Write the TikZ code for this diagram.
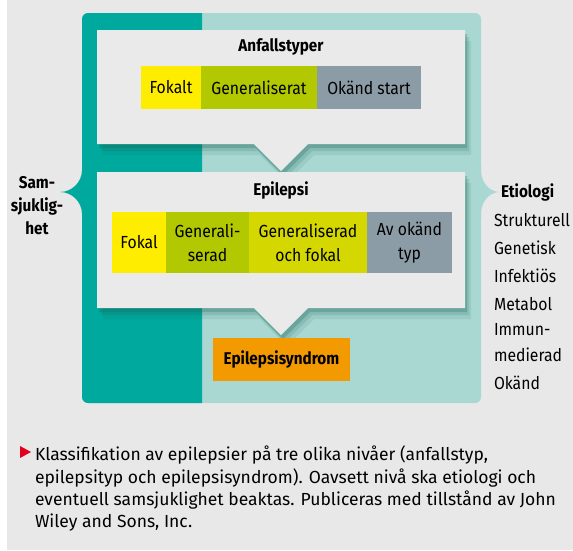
\documentclass[tikz,border=0pt]{standalone}
\usepackage{fontspec}
\setmainfont{Fira Sans}
\newfontfamily\condfont{Fira Sans}[FakeStretch=0.9]
\newfontfamily\captfont{Fira Sans}
\usepackage{color}
\usetikzlibrary{shapes.callouts,shadows}
\definecolor{bggray}{HTML}{E8E8E8}
\definecolor{boxgray}{HTML}{EAEAEA}
\definecolor{tealdark}{HTML}{00A99D}
\definecolor{teallight}{HTML}{A9D8D3}
\definecolor{shadowteal}{HTML}{1A6458}
\definecolor{fokalyellow}{HTML}{FFED00}
\definecolor{genergreen}{HTML}{B2C800}
\definecolor{fokalgreen}{HTML}{D4D800}
\definecolor{okandgray}{HTML}{8C9CA6}
\definecolor{syndromorange}{HTML}{F39A00}
\definecolor{arrowred}{HTML}{E2001A}

\begin{document}
\begin{tikzpicture}[x=1pt,y=-1pt]
\tikzstyle{every node}=[inner sep=0pt,outer sep=0pt,font=\condfont\fontsize{17.5}{24}\selectfont,text=black];
\tikzstyle{cell}=[minimum height=43pt,align=center];
\tikzstyle{cell2}=[minimum height=61pt,align=center];
\tikzstyle{headtext}=[font=\condfont\bfseries\fontsize{17}{23}\selectfont];
\tikzstyle{listtext}=[anchor=west,font=\condfont\fontsize{17.5}{26}\selectfont];
\tikzstyle{callbox}=[shape=rectangle callout,fill=boxgray,minimum width=368pt,callout pointer width=54pt,
  drop shadow={shadow xshift=6pt,shadow yshift=-11pt,opacity=.1,fill=shadowteal},
  drop shadow={shadow xshift=4pt,shadow yshift=-7pt,opacity=.15,fill=shadowteal},
  drop shadow={shadow xshift=2pt,shadow yshift=-4pt,opacity=.25,fill=shadowteal}];
\useasboundingbox (0,0) rectangle (573,550);
% bakgrund
\fill[white] (0,0) rectangle (573,550);
\fill[bggray] (6.5,0) rectangle (573,550);
% ram med klamrar
\fill[teallight,rounded corners=6pt] (82,13) rectangle (481,403);
\fill[teallight] (480,165) -- (481,165) -- (481,170) .. controls (481,182) and (489,192) .. (500,192)
  .. controls (489,192) and (481,202) .. (481,214) -- (481,219) -- (480,219) -- cycle;
\begin{scope}
\clip (0,0) rectangle (202,550);
\fill[tealdark,rounded corners=6pt] (82,13) rectangle (481,403);
\end{scope}
\fill[tealdark] (83,165) -- (82,165) -- (82,170) .. controls (82,182) and (72,192) .. (60,192)
  .. controls (72,192) and (82,202) .. (82,214) -- (82,219) -- (83,219) -- cycle;
% rutor
\node[callbox,minimum height=114pt,callout absolute pointer={(281,171)}] (b1) at (281,87) {};
\node[callbox,minimum height=136pt,callout absolute pointer={(281,335)}] (b2) at (281,240) {};
% anfallstyper
\node[headtext] (t1) at (281,47) {Anfallstyper};
\node[cell,fill=fokalyellow,minimum width=60pt] (a1) at (171,87.5) {Fokalt};
\node[cell,fill=genergreen,minimum width=116pt] (a2) at (259,87.5) {Generaliserat};
\node[cell,fill=okandgray,minimum width=104pt] (a3) at (369,87.5) {Okänd start};
% epilepsi
\node[headtext] (t2) at (281,190) {Epilepsi};
\node[cell2,fill=fokalyellow,minimum width=54pt] (e1) at (139,242.5) {Fokal};
\node[cell2,fill=genergreen,minimum width=83pt] (e2) at (207.5,242.5) {Generali-\\serad};
\node[cell2,fill=fokalgreen,minimum width=118pt] (e3) at (308,242.5) {Generaliserad\\och fokal};
\node[cell2,fill=okandgray,minimum width=85pt] (e4) at (409.5,242.5) {Av okänd\\typ};
% syndrom
\node[headtext,fill=syndromorange,minimum width=137pt,minimum height=43pt] (s1) at (281.5,359.5) {Epilepsisyndrom};
% sidotexter
\node[headtext,align=center] (sam) at (37,206) {Sam-\\sjuklig-\\het};
\node[headtext,anchor=west] (etio) at (501,192) {Etiologi};
\node[listtext] (et1) at (494,220) {Strukturell};
\node[listtext] (et2) at (494,248) {Genetisk};
\node[listtext] (et3) at (494,276) {Infektiös};
\node[listtext] (et4) at (494,304) {Metabol};
\node[listtext,align=left] (et5) at (494,343) {Immun-\\medierad};
\node[listtext] (et6) at (494,383) {Okänd};
% bildtext
\fill[arrowred] (20,446) -- (31,452) -- (20,458) -- cycle;
\node[anchor=north west,align=left,font=\captfont\fontsize{17.5}{22.3}\selectfont] (cap) at (35,446)
  {Klassifikation av epilepsier på tre olika nivåer (anfallstyp,\\
   epilepsityp och epilepsisyndrom). Oavsett nivå ska etiologi och\\
   eventuell samsjuklighet beaktas. Publiceras med tillstånd av John\\
   Wiley and Sons, Inc.};
\end{tikzpicture}
\end{document}
